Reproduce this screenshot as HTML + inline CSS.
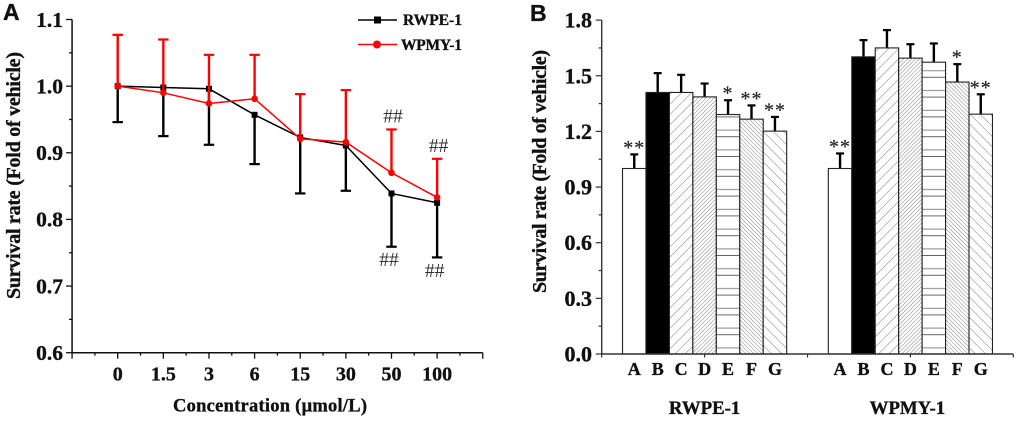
<!DOCTYPE html>
<html lang="en">
<head>
<meta charset="utf-8">
<title>Survival rate charts</title>
<style>
html,body{margin:0;padding:0;background:#fff;}
body{width:1020px;height:425px;overflow:hidden;}
svg{display:block;filter:blur(0.35px);}
text{font-family:"Liberation Serif",serif;font-weight:bold;fill:#111;stroke:#111;stroke-width:0.35px;}
.panel{font-family:"Liberation Sans",sans-serif;font-size:23px;}
.mark{font-weight:normal;fill:#333;stroke:none;}
.star{font-weight:normal;fill:#222;stroke:#222;stroke-width:0.2px;}
</style>
</head>
<body>
<svg id="fig" xmlns="http://www.w3.org/2000/svg" width="1020" height="425" viewBox="0 0 1020 425">
  <defs>
    <pattern id="hatch-c" patternUnits="userSpaceOnUse" width="7.2" height="8" patternTransform="rotate(45)">
      <rect width="7.2" height="8" fill="#fff"/><line x1="0" y1="0" x2="0" y2="8" stroke="#888" stroke-width="1.1"/>
    </pattern>
    <pattern id="hatch-d" patternUnits="userSpaceOnUse" width="2.8" height="8" patternTransform="rotate(45)">
      <rect width="2.8" height="8" fill="#fff"/><line x1="0" y1="0" x2="0" y2="8" stroke="#777" stroke-width="0.9"/>
    </pattern>
    <pattern id="hatch-e" patternUnits="userSpaceOnUse" width="10" height="39.6" y="354">
      <rect width="10" height="39.6" fill="#fff"/>
      <line x1="0" x2="10" y1="0.5" y2="0.5" stroke="#666" stroke-width="1"/>
      <line x1="0" x2="10" y1="13.7" y2="13.7" stroke="#888" stroke-width="1"/>
      <line x1="0" x2="10" y1="20.3" y2="20.3" stroke="#666" stroke-width="1"/>
      <line x1="0" x2="10" y1="33.5" y2="33.5" stroke="#888" stroke-width="1"/>
    </pattern>
    <pattern id="hatch-f" patternUnits="userSpaceOnUse" width="2.8" height="8" patternTransform="rotate(-45)">
      <rect width="2.8" height="8" fill="#fff"/><line x1="0" y1="0" x2="0" y2="8" stroke="#777" stroke-width="0.9"/>
    </pattern>
    <pattern id="hatch-g" patternUnits="userSpaceOnUse" width="7.2" height="8" patternTransform="rotate(-45)">
      <rect width="7.2" height="8" fill="#fff"/><line x1="0" y1="0" x2="0" y2="8" stroke="#888" stroke-width="1.1"/>
    </pattern>
  </defs>

  <text class="panel" x="3" y="20">A</text>
  <text class="panel" x="530" y="21">B</text>

  <text transform="translate(20,175.5) rotate(-90)" text-anchor="middle" font-size="20" textLength="247">Survival rate (Fold of vehicle)</text>
  <text x="173" y="411.5" font-size="18.5" textLength="194">Concentration (μmol/L)</text>
  <text transform="translate(546,171.5) rotate(-90)" text-anchor="middle" font-size="20" textLength="243">Survival rate (Fold of vehicle)</text>

  <g id="chart-a"></g>
  <g id="chart-b"></g>

  <g>
    <g>
      <line x1="358" x2="397" y1="20" y2="20" stroke="#000" stroke-width="1.6"/>
      <rect x="374" y="16.5" width="7" height="7" fill="#000"/>
      <text x="403" y="25" font-size="15.5" textLength="59">RWPE-1</text>
    </g>
    <g>
      <line x1="358" x2="397" y1="44.5" y2="44.5" stroke="#f00" stroke-width="1.6"/>
      <circle cx="377" cy="44.5" r="4" fill="#f00"/>
      <text x="401" y="50" font-size="15.5" textLength="61">WPMY-1</text>
    </g>
  </g>
</svg>
<script>
// ---- Chart A data ----
const concentrationLabels = ['0', '1.5', '3', '6', '15', '30', '50', '100'];
const rwpeMeans = [1.0, 0.998, 0.996, 0.957, 0.923, 0.911, 0.839, 0.825];
const rwpeLower = [0.946, 0.925, 0.912, 0.883, 0.839, 0.843, 0.759, 0.743];
const wpmyMeans = [1.0, 0.99, 0.974, 0.981, 0.921, 0.916, 0.87, 0.833];
const wpmyUpper = [1.077, 1.07, 1.047, 1.047, 0.988, 0.994, 0.935, 0.891];
const rwpeMarks = ['', '', '', '', '', '', '##', '##'];
const wpmyMarks = ['', '', '', '', '', '', '##', '##'];
const lineYTicks = [0.6, 0.7, 0.8, 0.9, 1.0, 1.1];

// ---- Chart B data ----
const treatmentLabels = ['A', 'B', 'C', 'D', 'E', 'F', 'G'];
const cellLineLabels = ['RWPE-1', 'WPMY-1'];
const rwpeBarMeans = [1.0, 1.41, 1.41, 1.386, 1.291, 1.266, 1.2015];
const rwpeBarUpper = [1.076, 1.514, 1.505, 1.458, 1.368, 1.34, 1.278];
const rwpeBarStars = ['**', '', '', '', '*', '**', '**'];
const wpmyBarMeans = [1.0, 1.602, 1.65, 1.595, 1.573, 1.466, 1.293];
const wpmyBarUpper = [1.081, 1.692, 1.746, 1.67, 1.674, 1.5625, 1.4];
const wpmyBarStars = ['**', '', '', '', '', '*', '**'];
const barYTicks = [0.0, 0.3, 0.6, 0.9, 1.2, 1.5, 1.8];

const SVGNS = 'http://www.w3.org/2000/svg';
function el(tag, attrs, parent, txt) {
  const e = document.createElementNS(SVGNS, tag);
  for (const k in attrs) e.setAttribute(k, attrs[k]);
  if (txt !== undefined) e.textContent = txt;
  parent.appendChild(e);
  return e;
}

// ---- Chart A ----
const gA = document.getElementById('chart-a');
const ax = i => 117.7 + 45.63 * i;
const ay = v => 352.7 - (v - 0.6) * 666.4;

const aAxis = el('path', {d: `M${ax(-1)} ${ay(1.1)}V${ay(0.6)}H${ax(8)}`, fill: 'none', stroke: '#111', 'stroke-width': 1.5}, gA);



for (let k = 0; k <= 10; k++) {
  const v = 0.6 + k * 0.05;
  const len = k % 2 === 0 ? 6 : 3;
  const t = el('line', {x1: ax(-1) - len, x2: ax(-1), y1: ay(v), y2: ay(v), stroke: '#111', 'stroke-width': 1.3}, gA);
  
  
}
lineYTicks.forEach(v => {
  const t = el('text', {x: 63, y: ay(v) + 7.3, 'text-anchor': 'end', 'font-size': 21.5}, gA, v.toFixed(1));
  
  
});
for (let k = -2; k <= 16; k++) {
  const len = k % 2 === 0 ? 6 : 3;
  const px = ax(k / 2);
  const t = el('line', {x1: px, x2: px, y1: ay(0.6), y2: ay(0.6) + len, stroke: '#111', 'stroke-width': 1.3}, gA);
  
  
}
concentrationLabels.forEach((c, i) => {
  const t = el('text', {x: ax(i), y: 380.7, 'text-anchor': 'middle', 'font-size': 20}, gA, c);
  
  
});

function drawError(g, px, from, to, color, name, capW) {
  const s = el('line', {x1: px, x2: px, y1: from, y2: to, stroke: color, 'stroke-width': 2.4}, g);
  
  
  const c = el('line', {x1: px - capW, x2: px + capW, y1: to, y2: to, stroke: color, 'stroke-width': 2.2}, g);
  
  
}

rwpeMeans.forEach((v, i) => drawError(gA, ax(i), ay(v), ay(rwpeLower[i]), '#000', 'rwpe-error-bar', 5.2));
const rwpeLine = el('polyline', {points: rwpeMeans.map((v, i) => ax(i) + ',' + ay(v)).join(' '), fill: 'none', stroke: '#000', 'stroke-width': 1.5}, gA);


rwpeMeans.forEach((v, i) => {
  const p = el('rect', {x: ax(i) - 3, y: ay(v) - 3, width: 6, height: 6, fill: '#000'}, gA);
  
  
});

wpmyMeans.forEach((v, i) => drawError(gA, ax(i), ay(v), ay(wpmyUpper[i]), '#f00', 'wpmy-error-bar', 5.2));
const wpmyLine = el('polyline', {points: wpmyMeans.map((v, i) => ax(i) + ',' + ay(v)).join(' '), fill: 'none', stroke: '#f00', 'stroke-width': 1.5}, gA);


wpmyMeans.forEach((v, i) => {
  const p = el('circle', {cx: ax(i), cy: ay(v), r: 3.3, fill: '#f00'}, gA);
  
  
});

wpmyMarks.forEach((m, i) => {
  if (!m) return;
  const t = el('text', {class: 'mark', x: ax(i) + 1.5, y: ay(wpmyUpper[i]) - 7, 'text-anchor': 'middle', 'font-size': 19.5}, gA, m);
  
  
});
rwpeMarks.forEach((m, i) => {
  if (!m) return;
  const t = el('text', {class: 'mark', x: ax(i) - 2.5, y: ay(rwpeLower[i]) + 19.5, 'text-anchor': 'middle', 'font-size': 19.5}, gA, m);
  
  
});

// ---- Chart B ----
const gB = document.getElementById('chart-b');
const bx0 = 601.7, bGroup = 102.9, barW = 23.45;
const groupCenter = g => bx0 + bGroup * (2 * g + 1);
const barLeft = (g, i) => groupCenter(g) + (i - 3.5) * barW;
const by = v => 354 - v * 185.5;
const fills = ['#fff', '#000', 'url(#hatch-c)', 'url(#hatch-d)', 'url(#hatch-e)', 'url(#hatch-f)', 'url(#hatch-g)'];

function drawGroup(g, means, upper, stars, key) {
  means.forEach((v, i) => {
    const left = barLeft(g, i);
    drawError(gB, left + barW / 2, by(v), by(upper[i]), '#000', key + '-bar-error', 4);
    const r = el('rect', {x: left, y: by(v), width: barW, height: by(0) - by(v), fill: fills[i], stroke: '#222', 'stroke-width': 1.1}, gB);
    
    
    if (stars[i]) {
      const t = el('text', {class: 'star', x: left + barW / 2, y: by(upper[i]) - 0.5, 'text-anchor': 'middle', 'font-size': 20, 'letter-spacing': 1}, gB, stars[i]);
      
      
    }
    const lab = el('text', {x: left + barW / 2, y: 375, 'text-anchor': 'middle', 'font-size': 18}, gB, treatmentLabels[i]);
    
    
  });
}
drawGroup(0, rwpeBarMeans, rwpeBarUpper, rwpeBarStars, 'rwpe');
drawGroup(1, wpmyBarMeans, wpmyBarUpper, wpmyBarStars, 'wpmy');

const bAxis = el('path', {d: `M${bx0} ${by(1.8)}V${by(0)}H${bx0 + 4 * bGroup}`, fill: 'none', stroke: '#333', 'stroke-width': 1.4}, gB);


for (let k = 0; k <= 12; k++) {
  const v = k * 0.15;
  const len = k % 2 === 0 ? 6 : 3;
  const t = el('line', {x1: bx0 - len, x2: bx0, y1: by(v), y2: by(v), stroke: '#333', 'stroke-width': 1.2}, gB);
  
  
}
barYTicks.forEach(v => {
  const t = el('text', {x: 592, y: by(v) + 7.5, 'text-anchor': 'end', 'font-size': 22}, gB, v.toFixed(1));
  
  
});
for (let k = 0; k <= 4; k++) {
  const px = bx0 + k * bGroup;
  const t = el('line', {x1: px, x2: px, y1: by(0), y2: by(0) + 3.5, stroke: '#333', 'stroke-width': 1.2}, gB);
  
  
}
cellLineLabels.forEach((c, g) => {
  const t = el('text', {x: groupCenter(g) + (g ? -3 : 0), y: 414, 'text-anchor': 'middle', 'font-size': 18.8}, gB, c);
  
  
});
</script>
</body>
</html>
